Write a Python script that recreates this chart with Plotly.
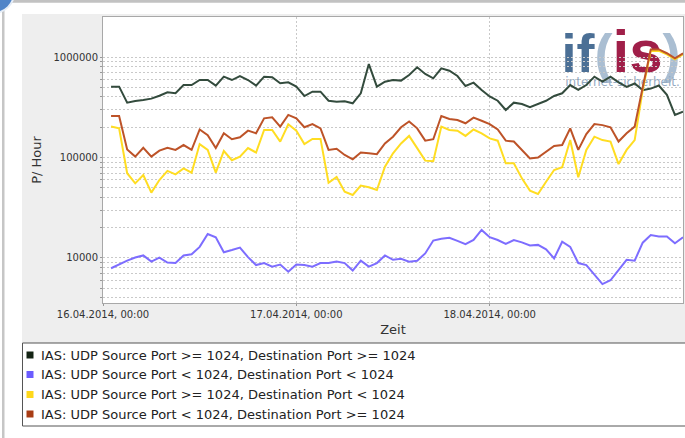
import pandas as pd
import plotly.graph_objects as go

# Hourly samples, 16.04.2014 01:00 .. 19.04.2014 00:00
start_time = "2014-04-16 01:00"
n_hours = 72
times = pd.date_range(start_time, periods=n_hours, freq="h")

series_names = [
    "IAS: UDP Source Port >= 1024, Destination Port >= 1024",
    "IAS: UDP Source Port < 1024, Destination Port < 1024",
    "IAS: UDP Source Port >= 1024, Destination Port < 1024",
    "IAS: UDP Source Port < 1024, Destination Port >= 1024",
]
series_colors = ["#334b3d", "#7d6dff", "#ffdd22", "#bd5328"]
legend_colors = ["#142414", "#6b5cff", "#ffd81a", "#a83c14"]

src_hi_dst_hi = [
    507000, 507000, 351000, 365000, 373000, 385000, 412000, 445000, 435000, 526000,
    526000, 590000, 590000, 519000, 637000, 590000, 647000, 590000, 519000, 637000,
    628000, 547000, 560000, 507000, 409000, 452000, 452000, 367000, 359000, 363000,
    346000, 435000, 851000, 507000, 568000, 590000, 582000, 662000, 789000, 678000,
    614000, 771000, 731000, 647000, 514000, 555000, 470000, 405000, 367000, 297000,
    351000, 340000, 316000, 340000, 367000, 409000, 435000, 526000, 470000, 526000,
    637000, 568000, 637000, 560000, 505000, 545000, 468000, 485000, 520000, 420000,
    265000, 286000,
]
src_lo_dst_lo = [
    7900, 8700, 9400, 10100, 10600, 9200, 10100, 9000, 8900, 10600,
    10900, 12900, 17300, 16100, 11400, 12000, 12700, 10200, 8500, 8900,
    8200, 8600, 7300, 8600, 8500, 8200, 8900, 8900, 9200, 8900,
    7500, 9400, 8200, 8900, 10600, 9600, 9800, 9200, 9400, 11100,
    14900, 15500, 15900, 14800, 13700, 15100, 19000, 16100, 15100, 13800,
    15100, 14300, 13300, 13500, 12200, 9900, 14500, 12900, 8900, 8500,
    6800, 5500, 6000, 7600, 9600, 9400, 14200, 16900, 16400, 16400,
    14000, 16100,
]
src_hi_dst_lo = [
    203000, 195000, 69700, 55300, 67000, 44700, 59700, 73500, 68000, 78000,
    70600, 136000, 119000, 70600, 116000, 94000, 102000, 124000, 112000, 188000,
    188000, 144000, 214000, 185000, 136000, 153000, 153000, 56000, 64000, 45700,
    42400, 52500, 50500, 47500, 81000, 110000, 138000, 164000, 124000, 93000,
    92000, 203000, 188000, 185000, 164000, 190000, 174000, 155000, 147000, 87500,
    87500, 62000, 46800, 43300, 57400, 75000, 80000, 149000, 63500, 119000,
    161000, 149000, 144000, 86000, 119000, 149000, 470000, 1150000, 1150000, 1060000,
    950000, 1060000,
]
src_lo_dst_hi = [
    259000, 259000, 120000, 102000, 125000, 102000, 117000, 125000, 119000, 133000,
    119000, 190000, 167000, 124000, 174000, 152000, 159000, 185000, 174000, 245000,
    251000, 203000, 265000, 245000, 200000, 215000, 195000, 119000, 122000, 106000,
    96000, 112000, 110000, 108000, 138000, 161000, 200000, 228000, 195000, 147000,
    152000, 259000, 242000, 236000, 219000, 249000, 232000, 215000, 190000, 147000,
    144000, 119000, 98000, 100000, 114000, 130000, 133000, 195000, 119000, 171000,
    215000, 210000, 200000, 144000, 174000, 203000, 500000, 1190000, 1190000, 1090000,
    970000, 1090000,
]
series_values = [src_hi_dst_hi, src_lo_dst_lo, src_hi_dst_lo, src_lo_dst_hi]

day_ticks = ["2014-04-16", "2014-04-17", "2014-04-18"]
day_labels = ["16.04.2014, 00:00", "17.04.2014, 00:00", "18.04.2014, 00:00"]

# log axis: labelled decades, grid on every 1..9 step up to 1e6
y_major = [10000, 100000, 1000000]
y_grid = [m * 10 ** e for e in (3, 4, 5) for m in range(1, 10) if m * 10 ** e >= 4000] + [1000000]
y_text = [f"{v}" if v in y_major else "" for v in y_grid]

FIG_W, FIG_H = 685, 438
L, R, T, B = 103, 683, 17, 303
FONT = "DejaVu Sans"


def px(x):
    return (x - L) / (R - L)


def py(y):
    return (B - y) / (B - T)


fig = go.Figure()
for name, vals, col in zip(series_names, series_values, series_colors):
    fig.add_trace(go.Scatter(
        x=times, y=vals, mode="lines", name=name,
        line=dict(color=col, width=2), showlegend=False,
    ))

shapes = []
# window chrome
shapes.append(dict(type="rect", xref="paper", yref="paper", layer="below",
                   x0=px(-5), x1=px(700), y0=py(-5), y1=py(2.7),
                   fillcolor="#c2c2c2", line=dict(width=0)))
shapes.append(dict(type="rect", xref="paper", yref="paper", layer="below",
                   x0=px(2), x1=px(4.5), y0=py(0), y1=py(445),
                   fillcolor="#c6c6c6", line=dict(width=0)))
shapes.append(dict(type="circle", xref="paper", yref="paper", layer="above",
                   x0=px(-27), x1=px(14), y0=py(-27), y1=py(13),
                   fillcolor="#4f84c8", line=dict(color="#e4ecf6", width=2)))
# chart panel and plot area
shapes.append(dict(type="rect", xref="paper", yref="paper", layer="below",
                   x0=px(22), x1=px(700), y0=py(14), y1=py(343),
                   fillcolor="#eeeeee", line=dict(width=0)))
shapes.append(dict(type="rect", xref="paper", yref="paper", layer="below",
                   x0=0, x1=1, y0=0, y1=1,
                   fillcolor="#ffffff", line=dict(width=0)))

# watermark logo inside the plot area (drawn beneath grid and lines)
logo_text = (
    "<b><span style='color:#4b6f95'>if</span>"
    "<span style='color:#aabed2'>(</span>"
    "<span style='color:#a01f49;font-size:60px'>is</span>"
    "<span style='color:#aabed2'>)</span></b>"
)
shapes.append(dict(
    type="rect", xref="paper", yref="paper", layer="below",
    x0=px(560), x1=px(682), y0=py(80), y1=py(22),
    fillcolor="rgba(0,0,0,0)", line=dict(width=0),
    label=dict(text=logo_text, textposition="middle center", padding=0,
               font=dict(family="Liberation Sans", size=54, color="#4b6f95")),
))
shapes.append(dict(
    type="rect", xref="paper", yref="paper", layer="below",
    x0=px(563), x1=px(682), y0=py(87), y1=py(74),
    fillcolor="rgba(0,0,0,0)", line=dict(width=0),
    label=dict(text="internet-sicherheit.", textposition="middle center", padding=0,
               font=dict(family=FONT, size=12, color="#94aac2")),
))

# legend box
shapes.append(dict(type="rect", xref="paper", yref="paper", layer="above",
                   x0=px(22.5), x1=px(700), y0=py(343), y1=py(426),
                   fillcolor="#ffffff", line=dict(color="#555555", width=1)))
legend_rows = [355, 374.5, 394.5, 414]
annotations = []
for name, col, yc in zip(series_names, legend_colors, legend_rows):
    shapes.append(dict(type="rect", xref="paper", yref="paper", layer="above",
                       x0=px(26.5), x1=px(33.5), y0=py(yc - 3.5), y1=py(yc + 3.5),
                       fillcolor=col, line=dict(width=0)))
    annotations.append(dict(xref="paper", yref="paper", x=px(39), y=py(yc),
                            xanchor="left", yanchor="middle", showarrow=False,
                            text=name, font=dict(family=FONT, size=13, color="#222222")))

grid_style = dict(gridcolor="#c9c9c9", gridwidth=1, griddash="2px,2px")

fig.update_layout(
    width=FIG_W, height=FIG_H,
    margin=dict(l=L, r=FIG_W - R, t=T, b=FIG_H - B, pad=0),
    paper_bgcolor="#ffffff", plot_bgcolor="rgba(0,0,0,0)",
    font=dict(family=FONT, size=10, color="#333333"),
    shapes=shapes, annotations=annotations, showlegend=False,
    xaxis=dict(
        type="date", range=["2014-04-16 00:00", "2014-04-19 00:00"],
        tickmode="array", tickvals=day_ticks, ticktext=day_labels,
        ticks="outside", ticklen=2, tickcolor="#999999",
        tickfont=dict(size=10, color="#333333"),
        showline=True, linecolor="#a8a8a8", linewidth=1, mirror=True,
        showgrid=True, **grid_style, zeroline=False,
        title=dict(text="Zeit", font=dict(size=13, color="#333333"), standoff=5),
    ),
    yaxis=dict(
        type="log", range=[3.552, 6.398],
        tickmode="array", tickvals=y_grid, ticktext=y_text,
        ticks="outside", ticklen=2, tickcolor="#999999",
        tickfont=dict(size=10, color="#333333"),
        showline=True, linecolor="#a8a8a8", linewidth=1, mirror=True,
        showgrid=True, **grid_style, zeroline=False,
        title=dict(text="P/ Hour", font=dict(size=13, color="#333333"), standoff=8),
    ),
)

fig.write_html("out.html")
